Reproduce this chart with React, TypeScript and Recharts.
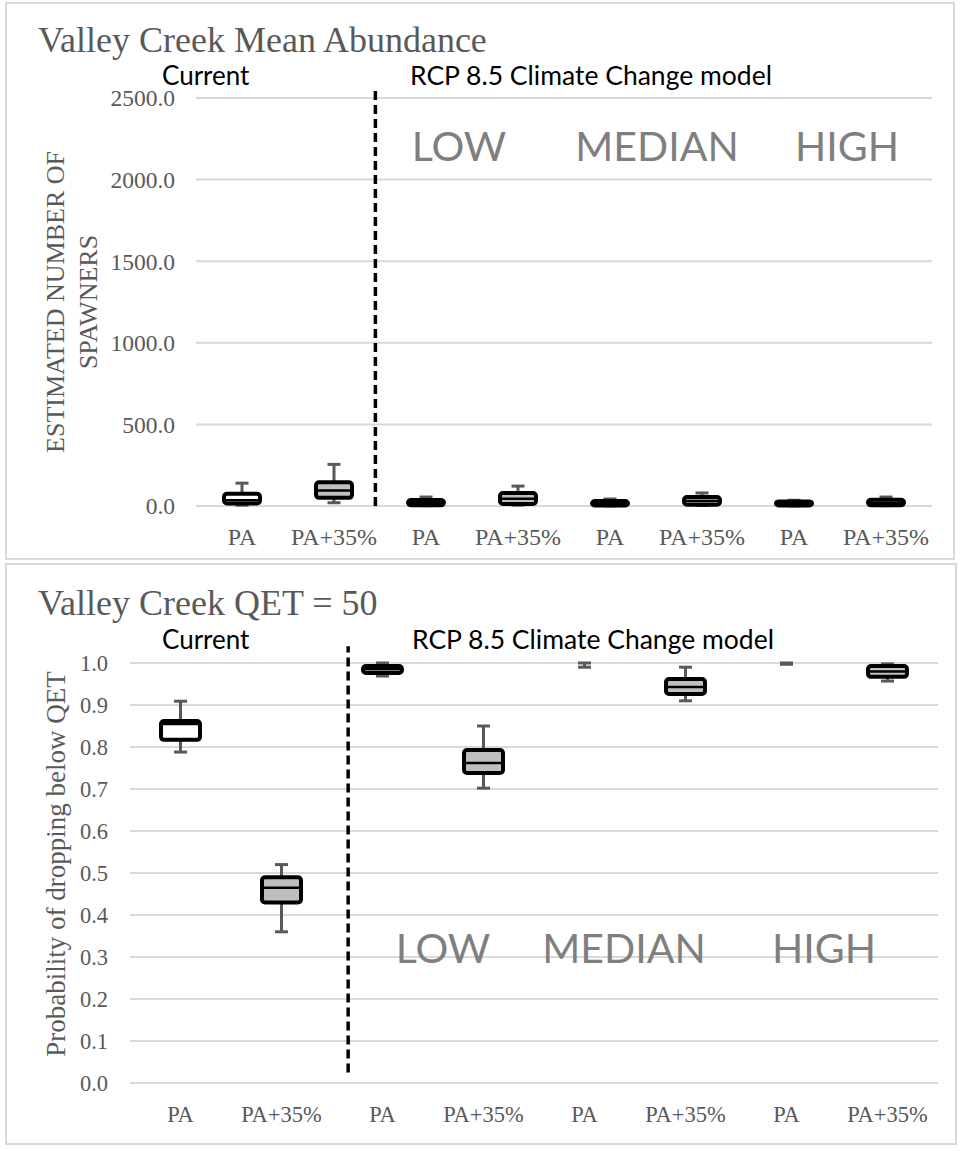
import React from 'react';
import { Bar, CartesianGrid, ComposedChart, ReferenceLine, XAxis, YAxis } from 'recharts';

const categories = ['PA', 'PA+35%', 'PA', 'PA+35%', 'PA', 'PA+35%', 'PA', 'PA+35%'];
const scenarios = ['LOW', 'MEDIAN', 'HIGH'];

// top panel: estimated number of spawners
const abundMin = [5, 20, 2, 5, 1, 3, 1, 2];
const abundQ1 = [15, 50, 5, 12, 3, 8, 3, 5];
const abundMedian = [35, 95, 20, 45, 15, 30, 12, 18];
const abundQ3 = [75, 145, 37, 80, 30, 55, 28, 38];
const abundMax = [140, 255, 55, 122, 43, 80, 35, 55];
const abundTicks = [0, 500, 1000, 1500, 2000, 2500];

// bottom panel: probability of dropping below QET
const qetMin = [0.788, 0.36, 0.969, 0.702, 0.99, 0.91, 0.997, 0.957];
const qetQ1 = [0.817, 0.43, 0.976, 0.738, 0.997, 0.926, 0.999, 0.967];
const qetMedian = [0.855, 0.465, 0.985, 0.762, 0.999, 0.943, 1.0, 0.98];
const qetQ3 = [0.862, 0.49, 0.993, 0.793, 1.0, 0.962, 1.0, 0.993];
const qetMax = [0.909, 0.52, 1.0, 0.85, 1.0, 0.99, 1.0, 0.998];
const qetTicks = [0, 0.1, 0.2, 0.3, 0.4, 0.5, 0.6, 0.7, 0.8, 0.9, 1.0];

const GRID = '#d9d9d9';
const TEXT = '#595959';
const WHISKER = '#595959';
const SERIF = '"Liberation Serif", "Times New Roman", serif';
const SANS = 'Lato, "Open Sans", sans-serif';

const buildRows = (mins, q1s, meds, q3s, maxs) =>
  categories.map((c, i) => ({
    id: String(i),
    pos: i + 0.5,
    range: [mins[i], maxs[i]],
    q1: q1s[i],
    median: meds[i],
    q3: q3s[i],
    fill: i % 2 === 0 ? '#ffffff' : '#bfbfbf',
  }));

const topRows = buildRows(abundMin, abundQ1, abundMedian, abundQ3, abundMax);
const bottomRows = buildRows(qetMin, qetQ1, qetMedian, qetQ3, qetMax);

const BoxShape = (props: any) => {
  const { x, y, width, height, payload } = props;
  if (!payload) return null;
  const top = Math.min(y, y + height);
  const span = Math.abs(height);
  const [lo, hi] = payload.range;
  const toY = (v: number) => top + (span * (hi - v)) / (hi - lo);
  const cx = x + width / 2;
  const yMax = toY(hi);
  const yMin = toY(lo);
  const yQ3 = toY(payload.q3);
  const yQ1 = toY(payload.q1);
  const yMed = toY(payload.median);
  const showBox = yQ1 - yQ3 >= 1.5;
  return (
    <g>
      <line x1={cx} x2={cx} y1={yMax} y2={yMin} stroke={WHISKER} strokeWidth={3} />
      <line x1={cx - 6.5} x2={cx + 6.5} y1={yMax} y2={yMax} stroke={WHISKER} strokeWidth={3} />
      <line x1={cx - 6.5} x2={cx + 6.5} y1={yMin} y2={yMin} stroke={WHISKER} strokeWidth={3} />
      {showBox && (
        <>
          <rect
            x={x + 2}
            y={yQ3}
            width={width - 4}
            height={yQ1 - yQ3}
            rx={3}
            fill={payload.fill}
            stroke="#000"
            strokeWidth={4}
          />
          <line x1={x + 3} x2={x + width - 3} y1={yMed} y2={yMed} stroke="#000" strokeWidth={2.5} />
        </>
      )}
    </g>
  );
};

const fmt1 = (v: number) => v.toFixed(1);
const catLabel = (v: string) => categories[Number(v)];

const App = () => {
  return (
    <div style={{ position: 'absolute', left: 0, top: 0, width: 964, height: 1151, background: '#fff' }}>
      <div
        style={{
          position: 'absolute',
          left: 5,
          top: 2,
          width: 950,
          height: 558,
          boxSizing: 'border-box',
          border: `2px solid ${GRID}`,
        }}
      />
      <div
        style={{
          position: 'absolute',
          left: 5,
          top: 563,
          width: 952,
          height: 582,
          boxSizing: 'border-box',
          border: `2px solid ${GRID}`,
        }}
      />

      <div style={{ position: 'absolute', left: 0, top: 0 }}>
        <ComposedChart width={964} height={560} data={topRows} margin={{ top: 98, right: 32, bottom: 24, left: 136 }}>
          <CartesianGrid vertical={false} stroke={GRID} strokeWidth={2} />
          <XAxis
            dataKey="id"
            tickFormatter={catLabel}
            axisLine={false}
            tickLine={false}
            tickMargin={16}
            interval={0}
            tick={{ fill: TEXT, fontSize: 24, fontFamily: SERIF }}
          />
          <XAxis
            xAxisId="num"
            dataKey="pos"
            type="number"
            domain={[0, 8]}
            ticks={[0, 8]}
            allowDataOverflow
            hide
          />
          <YAxis
            width={60}
            domain={[0, 2500]}
            ticks={abundTicks}
            tickFormatter={fmt1}
            axisLine={false}
            tickLine={false}
            tickMargin={15}
            tick={{ fill: TEXT, fontSize: 23.5, fontFamily: SERIF }}
          />
          <Bar dataKey="range" barSize={40} shape={BoxShape} isAnimationActive={false} />
          <ReferenceLine
            xAxisId="num"
            segment={[
              { x: 1.95, y: 0 },
              { x: 1.95, y: 2560 },
            ]}
            stroke="#000"
            strokeWidth={3.5}
            strokeDasharray="9 5"
            ifOverflow="visible"
          />
        </ComposedChart>
      </div>

      <div style={{ position: 'absolute', left: 0, top: 562 }}>
        <ComposedChart width={964} height={589} data={bottomRows} margin={{ top: 101, right: 26, bottom: 38, left: 70 }}>
          <CartesianGrid vertical={false} stroke={GRID} strokeWidth={2} />
          <XAxis
            dataKey="id"
            tickFormatter={catLabel}
            axisLine={false}
            tickLine={false}
            tickMargin={17}
            interval={0}
            tick={{ fill: TEXT, fontSize: 22.5, fontFamily: SERIF }}
          />
          <XAxis
            xAxisId="num"
            dataKey="pos"
            type="number"
            domain={[0, 8]}
            ticks={[0, 8]}
            allowDataOverflow
            hide
          />
          <YAxis
            width={60}
            domain={[0, 1]}
            ticks={qetTicks}
            tickFormatter={fmt1}
            axisLine={false}
            tickLine={false}
            tickMargin={16}
            tick={{ fill: TEXT, fontSize: 22.5, fontFamily: SERIF }}
          />
          <Bar dataKey="range" barSize={43} shape={BoxShape} isAnimationActive={false} />
          <ReferenceLine
            xAxisId="num"
            segment={[
              { x: 2.16, y: 0.025 },
              { x: 2.16, y: 1.04 },
            ]}
            stroke="#000"
            strokeWidth={3.5}
            strokeDasharray="9 5"
            ifOverflow="visible"
          />
        </ComposedChart>
      </div>

      <svg
        width={964}
        height={1151}
        style={{ position: 'absolute', left: 0, top: 0, pointerEvents: 'none' }}
      >
        <text x={38} y={52} fontFamily={SERIF} fontSize={36} fill={TEXT}>
          Valley Creek Mean Abundance
        </text>
        <text x={162} y={85} fontFamily={SANS} fontSize={26} fill="#000">
          Current
        </text>
        <text x={410} y={85} fontFamily={SANS} fontSize={26.5} fill="#000">
          RCP 8.5 Climate Change model
        </text>
        {scenarios.map((s, i) => (
          <text
            key={'t' + s}
            x={[459, 657, 847][i]}
            y={161}
            textAnchor="middle"
            fontFamily={SANS}
            fontSize={41}
            fill="#7f7f7f"
          >
            {s}
          </text>
        ))}
        <g transform="translate(55,302) rotate(-90)">
          <text textAnchor="middle" dominantBaseline="central" fontFamily={SERIF} fontSize={26} fill={TEXT}>
            ESTIMATED NUMBER OF
          </text>
        </g>
        <g transform="translate(88,302) rotate(-90)">
          <text textAnchor="middle" dominantBaseline="central" fontFamily={SERIF} fontSize={26} fill={TEXT}>
            SPAWNERS
          </text>
        </g>

        <text x={38} y={615} fontFamily={SERIF} fontSize={36} fill={TEXT}>
          Valley Creek QET = 50
        </text>
        <text x={162} y={649} fontFamily={SANS} fontSize={26} fill="#000">
          Current
        </text>
        <text x={412} y={649} fontFamily={SANS} fontSize={26.5} fill="#000">
          RCP 8.5 Climate Change model
        </text>
        {scenarios.map((s, i) => (
          <text
            key={'b' + s}
            x={[443, 624, 824][i]}
            y={963}
            textAnchor="middle"
            fontFamily={SANS}
            fontSize={41}
            fill="#7f7f7f"
          >
            {s}
          </text>
        ))}
        <g transform="translate(56,864) rotate(-90)">
          <text textAnchor="middle" dominantBaseline="central" fontFamily={SERIF} fontSize={27} fill={TEXT}>
            Probability of dropping below QET
          </text>
        </g>
      </svg>
    </div>
  );
};

export default App;
